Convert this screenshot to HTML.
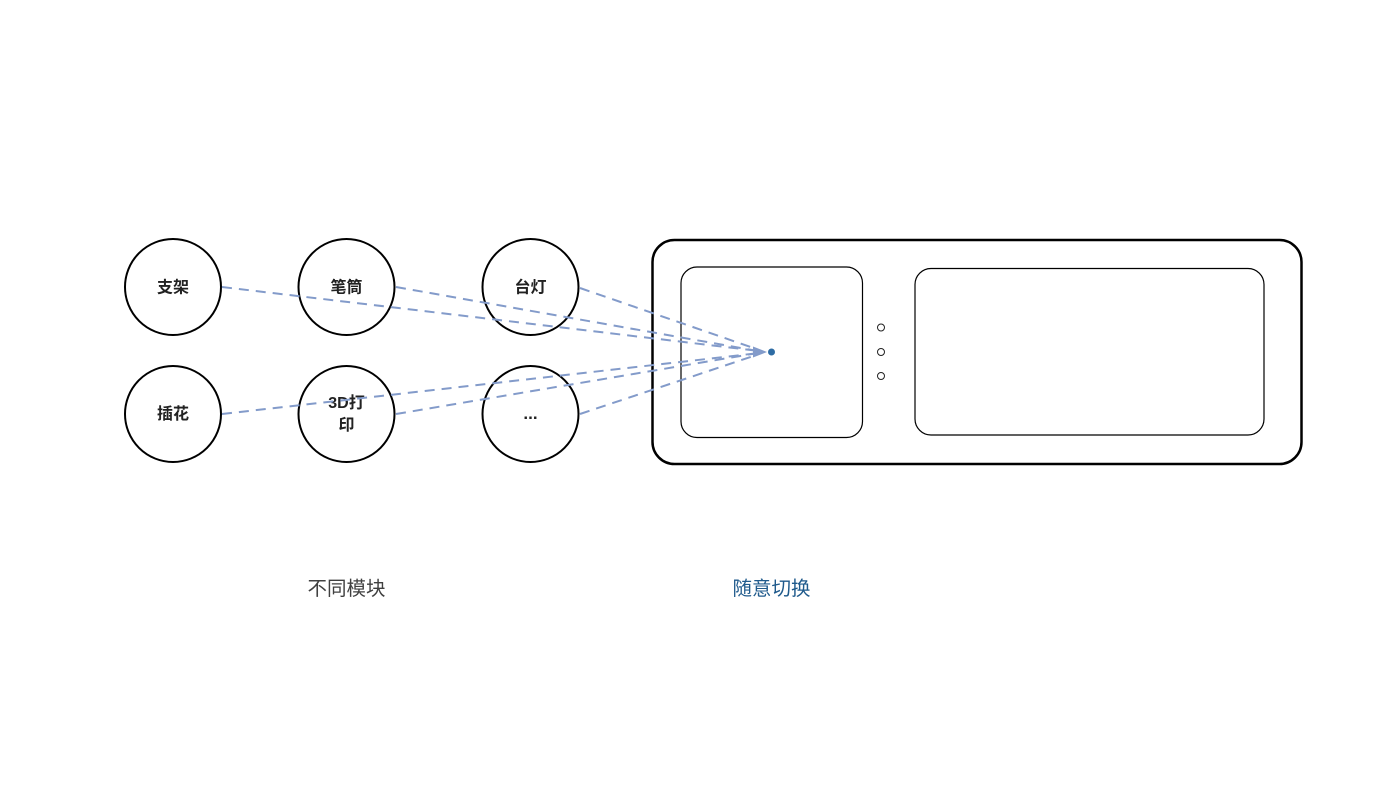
<!DOCTYPE html>
<html><head><meta charset="utf-8"><style>
html,body{margin:0;padding:0;background:#fff;width:1400px;height:788px;overflow:hidden}
svg{display:block}
text{font-family:"Liberation Sans","Noto Sans CJK SC",sans-serif;text-anchor:middle}
.n{font-size:16px;font-weight:700;fill:#222}
.c{fill:#fff;stroke:#000;stroke-width:2}
.d{fill:none;stroke:#839bca;stroke-width:2;stroke-dasharray:10 7}
</style></head><body>
<svg width="1400" height="788" viewBox="0 0 1400 788">
<rect x="652.500" y="240" width="649" height="224" rx="22" fill="#fff" stroke="#000" stroke-width="2.500"/>
<rect x="681" y="267" width="181.500" height="170.500" rx="16" fill="#fff" stroke="#000" stroke-width="1.200"/>
<rect x="915" y="268.500" width="349" height="166.500" rx="16" fill="#fff" stroke="#000" stroke-width="1.200"/>
<circle cx="881" cy="327.500" r="3.500" fill="#fff" stroke="#222" stroke-width="1"/>
<circle cx="881" cy="352" r="3.500" fill="#fff" stroke="#222" stroke-width="1"/>
<circle cx="881" cy="376" r="3.500" fill="#fff" stroke="#222" stroke-width="1"/>
<circle class="c" cx="173" cy="287" r="48"/>
<circle class="c" cx="346.500" cy="287" r="48"/>
<circle class="c" cx="530.500" cy="287" r="48"/>
<circle class="c" cx="173" cy="414" r="48"/>
<circle class="c" cx="346.500" cy="414" r="48"/>
<circle class="c" cx="530.500" cy="414" r="48"/>
<text class="n" x="173" y="292.500">支架</text>
<text class="n" x="346.500" y="292.500">笔筒</text>
<text class="n" x="530.500" y="292.500">台灯</text>
<text class="n" x="173" y="419">插花</text>
<text class="n" x="346.500" y="408">3D打</text>
<text class="n" x="346.500" y="430">印</text>
<text class="n" x="530.500" y="419" style="font-size:17px">...</text>
<path class="d" d="M222 287L755 350.500"/>
<path class="d" d="M396 287L755 350.500"/>
<path class="d" d="M580 288L755 348.500"/>
<path class="d" d="M222 414L755 353.500"/>
<path class="d" d="M396 414L755 353.500"/>
<path class="d" d="M580 414L755 355.500"/>
<path d="M753 346.500L767 352L753 357.500Z" fill="#839bca"/>
<circle cx="771.500" cy="352" r="3.500" fill="#2e6ca4"/>
<text x="346.500" y="595" font-size="19.500" fill="#404040">不同模块</text>
<text x="771.500" y="595" font-size="19.500" fill="#1f5a8c">随意切换</text>
</svg>
</body></html>
